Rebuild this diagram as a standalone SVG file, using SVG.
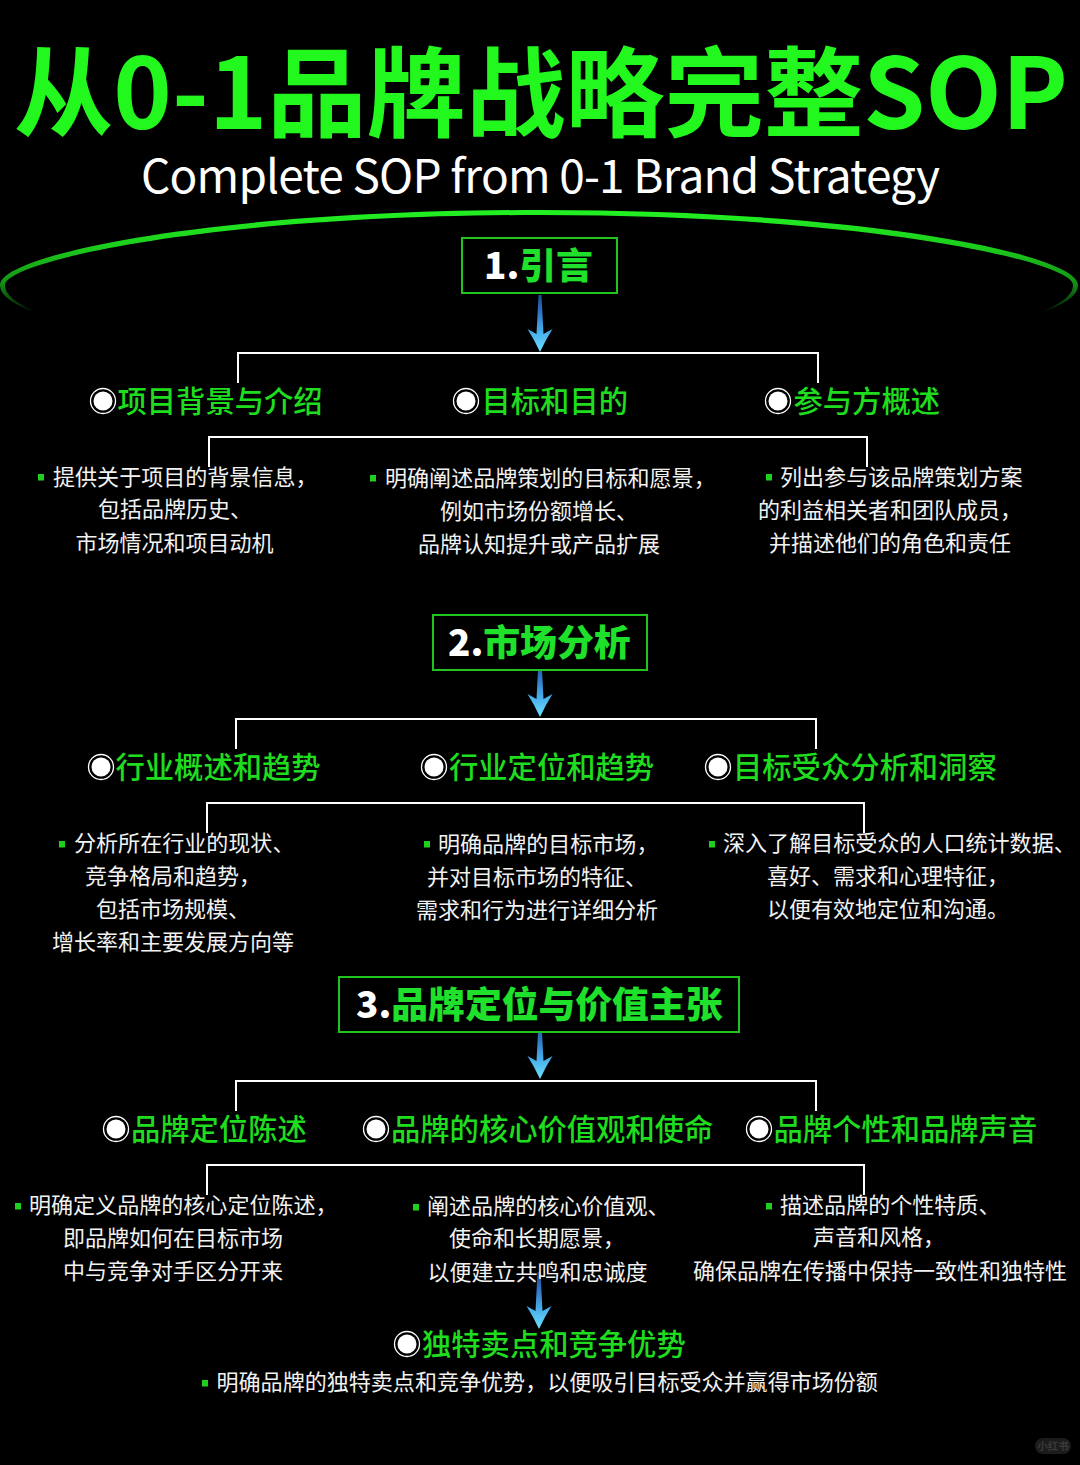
<svg xmlns="http://www.w3.org/2000/svg" width="1080" height="1465" viewBox="0 0 1080 1465">
<defs>
<linearGradient id="arc" gradientUnits="userSpaceOnUse" x1="0" y1="212" x2="0" y2="314"><stop offset="0" stop-color="#22f022"/><stop offset="0.35" stop-color="#1ccc1c"/><stop offset="0.7" stop-color="#149014"/><stop offset="0.88" stop-color="#0a400a"/><stop offset="1" stop-color="#000"/></linearGradient>
<linearGradient id="ag" x1="0" y1="0" x2="0" y2="1"><stop offset="0" stop-color="#1a4a90"/><stop offset="0.3" stop-color="#2f74c4"/><stop offset="0.65" stop-color="#48aeea"/><stop offset="1" stop-color="#6ce0ff"/></linearGradient>
<path id="ar" d="M-1.500,0 L1.500,0 L3.500,39 L12.500,34 Q5.500,45 0,57 Q-5.500,45 -12.500,34 L-3.500,39Z" fill="url(#ag)"/>
<g id="dot"><circle r="12.500" fill="none" stroke="#fff" stroke-width="1.3"/><circle r="9.500" fill="#fff"/></g>
</defs>
<style>
text{font-family:"Noto Sans CJK SC","Noto Sans",sans-serif}
.t{font-size:98px;font-weight:700;fill:#22f81e}
.s{font-size:46px;fill:#fff}
.h{font-size:36.8px;font-weight:900;fill:#1fe02a}
.n{fill:#fff}
.g{font-size:29.3px;font-weight:500;fill:#1fdc1f}
.b{font-size:22px;fill:#f2f2f2;text-anchor:middle}
.l{font-size:22.05px;fill:#f2f2f2}
.box{fill:#000;stroke:#1fc41f;stroke-width:2}
.c{fill:none;stroke:#fff;stroke-width:2}
.sq{fill:#1fd01f}
</style>
<rect width="1080" height="1465" fill="#000"/>
<g id="title">
<text class="t" x="14" y="129" textLength="1054" lengthAdjust="spacingAndGlyphs">从0-1品牌战略完整SOP</text>
<text class="s" x="141" y="193" textLength="799" lengthAdjust="spacing">Complete SOP from 0-1 Brand Strategy</text>
</g>
<path id="arc-shape" d="M40,314 C14,305 0,296 0,285 C0,255 208,210 539,210 C870,210 1078,255 1078,285 C1078,296 1064,305 1037,314 C1060,304 1073,296 1073,285 C1073,262 870,215 539,215 C208,215 5,262 5,285 C5,296 18,304 40,314Z" fill="url(#arc)"/>
<g id="connectors">
<path class="c" d="M238,383V353H818V383"/>
<path class="c" d="M209,467V437H867V467"/>
<path class="c" d="M236,749V719H816V749"/>
<path class="c" d="M207,833V803H864V833"/>
<path class="c" d="M236,1111V1081H816V1111"/>
<path class="c" d="M207,1195V1165H864V1195"/>
<use href="#ar" x="540" y="295"/>
<use href="#ar" x="540" y="660"/>
<use href="#ar" x="540" y="1022"/>
<use href="#ar" x="539" y="1272"/>
</g>
<g id="s1">
<rect class="box" x="462" y="238" width="155" height="55"/>
<text class="h" x="484" y="279"><tspan class="n">1.</tspan>引言</text>
</g>
<g id="n11"><use href="#dot" x="103" y="401"/><text class="g" x="117.500" y="412">项目背景与介绍</text></g>
<g id="n12"><use href="#dot" x="466" y="401"/><text class="g" x="481.500" y="412">目标和目的</text></g>
<g id="n13"><use href="#dot" x="778" y="401"/><text class="g" x="793.500" y="412">参与方概述</text></g>
<g id="d11"><rect class="sq" x="38" y="474" width="6" height="6.500"/><text class="l" x="53" y="485">提供关于项目的背景信息，</text><text class="b" x="175" y="517">包括品牌历史、</text><text class="b" x="174.500" y="551">市场情况和项目动机</text></g>
<g id="d12"><rect class="sq" x="370" y="475" width="6" height="6.500"/><text class="l" x="385" y="486">明确阐述品牌策划的目标和愿景，</text><text class="b" x="539" y="519">例如市场份额增长、</text><text class="b" x="539" y="552">品牌认知提升或产品扩展</text></g>
<g id="d13"><rect class="sq" x="766" y="474" width="6" height="6.500"/><text class="l" x="780" y="485">列出参与该品牌策划方案</text><text class="b" x="890" y="518">的利益相关者和团队成员，</text><text class="b" x="890" y="551">并描述他们的角色和责任</text></g>
<g id="s2">
<rect class="box" x="433" y="615" width="214" height="55"/>
<text class="h" x="448" y="656"><tspan class="n">2.</tspan>市场分析</text>
</g>
<g id="n21"><use href="#dot" x="101" y="767"/><text class="g" x="115.500" y="778">行业概述和趋势</text></g>
<g id="n22"><use href="#dot" x="434" y="767"/><text class="g" x="449" y="778">行业定位和趋势</text></g>
<g id="n23"><use href="#dot" x="718" y="767"/><text class="g" x="733" y="778">目标受众分析和洞察</text></g>
<g id="d21"><rect class="sq" x="59" y="841" width="6" height="6.500"/><text class="l" x="74" y="851">分析所在行业的现状、</text><text class="b" x="173" y="884">竞争格局和趋势，</text><text class="b" x="173" y="917">包括市场规模、</text><text class="b" x="173" y="950">增长率和主要发展方向等</text></g>
<g id="d22"><rect class="sq" x="424" y="841" width="6" height="6.500"/><text class="l" x="438" y="852">明确品牌的目标市场，</text><text class="b" x="537" y="885">并对目标市场的特征、</text><text class="b" x="537" y="918">需求和行为进行详细分析</text></g>
<g id="d23"><rect class="sq" x="709" y="841" width="6" height="6.500"/><text class="l" x="723" y="851">深入了解目标受众的人口统计数据、</text><text class="b" x="888" y="884">喜好、需求和心理特征，</text><text class="b" x="888" y="917">以便有效地定位和沟通。</text></g>
<g id="s3">
<rect class="box" x="339" y="977" width="400" height="55"/>
<text class="h" x="356" y="1018"><tspan class="n">3.</tspan>品牌定位与价值主张</text>
</g>
<g id="n31"><use href="#dot" x="116" y="1129"/><text class="g" x="131" y="1140">品牌定位陈述</text></g>
<g id="n32"><use href="#dot" x="376" y="1129"/><text class="g" x="391" y="1140">品牌的核心价值观和使命</text></g>
<g id="n33"><use href="#dot" x="759" y="1129"/><text class="g" x="773.500" y="1140">品牌个性和品牌声音</text></g>
<g id="d31"><rect class="sq" x="15" y="1203" width="6" height="6.500"/><text class="l" x="29" y="1213">明确定义品牌的核心定位陈述，</text><text class="b" x="173" y="1246">即品牌如何在目标市场</text><text class="b" x="173" y="1279">中与竞争对手区分开来</text></g>
<g id="d32"><rect class="sq" x="413" y="1204" width="6" height="6.500"/><text class="l" x="427" y="1214">阐述品牌的核心价值观、</text><text class="b" x="537" y="1246">使命和长期愿景，</text><text class="b" x="537.500" y="1280">以便建立共鸣和忠诚度</text></g>
<g id="d33"><rect class="sq" x="766" y="1203" width="6" height="6.500"/><text class="l" x="780" y="1213">描述品牌的个性特质、</text><text class="b" x="879" y="1245">声音和风格，</text><text class="b" x="880" y="1279">确保品牌在传播中保持一致性和独特性</text></g>
<g id="n4"><use href="#dot" x="407" y="1344"/><text class="g" x="422" y="1355">独特卖点和竞争优势</text></g>
<g id="d4"><rect class="sq" x="202" y="1380" width="6" height="6.500"/><text class="l" x="216.500" y="1390">明确品牌的独特卖点和竞争优势，以便吸引目标受众并赢得市场份额</text></g>
<g id="wm"><rect x="1035" y="1438" width="36" height="16" rx="8" fill="#1c1c1c"/><text x="1053" y="1450" font-size="10.500" font-weight="700" fill="#3a3a3a" text-anchor="middle">小红书</text></g>
</svg>
